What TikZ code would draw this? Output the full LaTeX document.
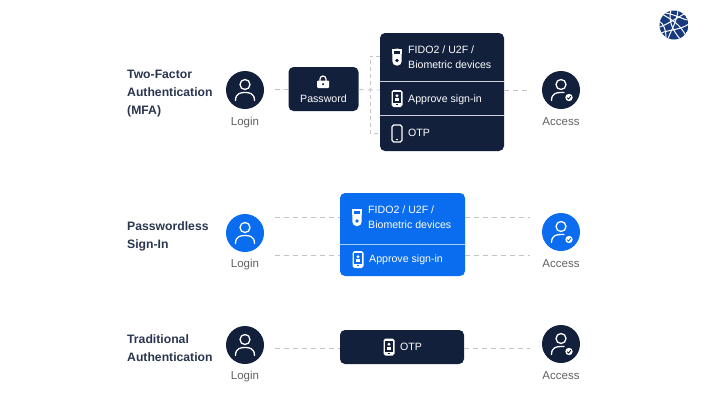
\documentclass[tikz,border=0pt]{standalone}
\usepackage{fontspec}
\setmainfont{Liberation Sans}
\usetikzlibrary{arrows.meta,positioning,backgrounds}
\definecolor{navy}{HTML}{12203C}
\definecolor{azure}{HTML}{0A6CEE}
\definecolor{logoblue}{HTML}{163A7D}
\tikzset{
  circ/.style={circle,fill=#1,minimum size=38pt,inner sep=0pt},
  panel/.style={draw=none,fill=#1,rounded corners=5pt,inner sep=0pt},
  link/.style={draw=black!23,dash pattern=on 5pt off 4pt,line width=.9pt},
  title/.style={anchor=base west,inner sep=0pt,font=\fontsize{12.2}{12}\selectfont\bfseries,text=navy!90!white},
  caption/.style={anchor=base,inner sep=0pt,font=\fontsize{11.5}{12}\selectfont,text=black!62},
  inner/.style={anchor=base west,inner sep=0pt,font=\fontsize{10.6}{11}\selectfont,text=white},
  sep/.style={draw=white!80!navy,line width=.8pt},
  pics/personicon/.style={code={
    \draw[white,line width=1.3pt] (0,-5.5) circle (5);
    \draw[white,line width=1.3pt,line cap=round] (-9.5,10.5) .. controls (-9.5,3) and (-4,2.5) .. (0,2.5) .. controls (4,2.5) and (9.5,3) .. (9.5,10.5);
  }},
  pics/accessicon/.style={code={
    \draw[white,line width=1.3pt] (0,-5.5) circle (5);
    \draw[white,line width=1.3pt,line cap=round] (-9.5,10.5) .. controls (-9.5,3) and (-4,2.5) .. (0,2.5) -- (3,2.5);
    \fill[white] (8,7.5) circle (3.7);
    \draw[#1,line width=.9pt] (6.2,7.7) -- (7.6,9) -- (9.8,6.2);
  }},
  pics/usbicon/.style={code={
    \fill[white,rounded corners=4pt] (-4.6,-8.5) rectangle (4.6,8.5);
    \fill[white] (-4.6,-8.5) rectangle (4.6,-3);
    \fill[#1] (-3,-6.5) rectangle (3,-3.5);
    \fill[#1] (0,3.5) circle (1.9);
  }},
  pics/approveicon/.style={code={
    \fill[white,rounded corners=1.8pt] (-5.5,-8.5) rectangle (5.5,8.5);
    \fill[#1] (-3.6,-6.5) rectangle (3.6,4.5);
    \fill[white] (0,-2.8) circle (1.6);
    \fill[white] (-2.4,2.6) rectangle (2.4,-.2);
    \fill[#1] (-1.2,5.9) rectangle (1.2,6.9);
  }},
  pics/otpicon/.style={code={
    \draw[white,line width=1.2pt,rounded corners=1.8pt] (-5,-8.5) rectangle (5,8.5);
    \fill[white] (-1.3,5.4) rectangle (1.3,6.6);
  }},
  pics/lockicon/.style={code={
    \draw[white,line width=1.2pt] (-3,-1) -- (-3,-3) arc (180:360:3) -- (3,-1);
    \fill[white,rounded corners=1pt] (-6,-1.5) rectangle (6,6);
    \fill[#1] (0,2.2) circle (1.2);
  }},
}
\begin{document}
\begin{tikzpicture}[x=1pt,y=-1pt]
\useasboundingbox (0,0) rectangle (711,400);
% logo
\begin{scope}
\clip (674,25) circle (14.5);
\fill[logoblue] (674,25) circle (14.5);
\draw[white,line width=1pt] (662,14) .. controls (672,20) and (680,24) .. (686,36);
\draw[white,line width=1pt] (660,27) .. controls (668,24) and (680,16) .. (686,13);
\draw[white,line width=1pt] (671,10) .. controls (668,20) and (672,30) .. (681,40);
\draw[white,line width=1pt] (661,33) .. controls (668,30) and (680,30) .. (689,24);
\draw[white,line width=1pt] (668,39) .. controls (670,32) and (676,24) .. (678,11);
\draw[white,line width=1pt] (659,21) .. controls (664,24) and (666,30) .. (666,38);
\draw[white,line width=1pt] (664,13) .. controls (672,13) and (684,20) .. (688,20);
\end{scope}

% top row
\node[title] (mfa1) at (127,78) {Two-Factor};
\node[title] (mfa2) at (127,96) {Authentication};
\node[title] (mfa3) at (127,114) {(MFA)};
\node[circ=navy] (login1) at (245,90) {};
\pic at (login1) {personicon};
\node[caption] (loginlabel1) at (245,125) {Login};
\node[panel=navy,minimum width=70pt,minimum height=44pt] (pass) at (323.5,89) {};
\pic at (323,82) {lockicon=navy};
\node[inner,anchor=base] (passlabel) at (323.5,102) {Password};
\node[panel=navy,minimum width=124pt,minimum height=118pt] (factors) at (442,92) {};
\draw[sep] (380,81) -- (504,81);
\draw[sep] (380,115) -- (504,115);
\pic at (397,57) {usbicon=navy};
\node[inner] (fido1a) at (408,53.5) {FIDO2 / U2F /};
\node[inner] (fido1b) at (408,68.5) {Biometric devices};
\pic at (397,98.5) {approveicon=navy};
\node[inner] (approve1) at (408,102.5) {Approve sign-in};
\pic at (397,133.5) {otpicon};
\node[inner] (otp1) at (408,136.5) {OTP};
\node[circ=navy] (access1) at (561,90) {};
\pic at (access1) {accessicon=navy};
\node[caption] (accesslabel1) at (561,125) {Access};
\coordinate (fork) at (370,90);
\coordinate (forkup) at (370,56);
\coordinate (forkdown) at (370,133);
\draw[link,shorten <=11pt] (login1) -- (pass);
\draw[link] (pass) -- (factors.west |- fork);
\draw[link,dash pattern=on 3.5pt off 3.5pt] (factors.west |- forkup) -- (forkup) -- (forkdown) -- (factors.west |- forkdown);
\draw[link,shorten >=12pt] (factors.east |- access1) -- (access1);

% middle row
\node[title] (pwless1) at (127,230) {Passwordless};
\node[title] (pwless2) at (127,248) {Sign-In};
\node[circ=azure] (login2) at (245,233) {};
\pic at (login2) {personicon};
\node[caption] (loginlabel2) at (245,267) {Login};
\node[panel=azure,minimum width=125pt,minimum height=83pt] (keys) at (402.5,234.5) {};
\draw[sep,draw=white!65!azure] (340,244) -- (465,244);
\pic at (357,217.5) {usbicon=azure};
\node[inner] (fido2a) at (368,213.5) {FIDO2 / U2F /};
\node[inner] (fido2b) at (368,228.5) {Biometric devices};
\pic at (358,259.5) {approveicon=azure};
\node[inner] (approve2) at (369,262.5) {Approve sign-in};
\node[circ=azure] (access2) at (561,232) {};
\pic at (access2) {accessicon=azure};
\node[caption] (accesslabel2) at (561,267) {Access};
\coordinate (inup) at (275,217);
\coordinate (indown) at (275,255);
\coordinate (outup) at (530,217);
\coordinate (outdown) at (530,255);
\draw[link] (inup) -- (keys.west |- inup);
\draw[link] (indown) -- (keys.west |- indown);
\draw[link] (keys.east |- outup) -- (outup);
\draw[link] (keys.east |- outdown) -- (outdown);

% bottom row
\node[title] (trad1) at (127,343) {Traditional};
\node[title] (trad2) at (127,361) {Authentication};
\node[circ=navy] (login3) at (245,345) {};
\pic at (login3) {personicon};
\node[caption] (loginlabel3) at (245,379) {Login};
\node[panel=navy,minimum width=124pt,minimum height=34pt] (otpbox) at (402,347) {};
\pic at (389,347) {approveicon=navy};
\node[inner] (otp3) at (400,350.5) {OTP};
\node[circ=navy] (access3) at (561,344) {};
\pic at (access3) {accessicon=navy};
\node[caption] (accesslabel3) at (561,379) {Access};
\coordinate (in3) at (275,348);
\coordinate (out3) at (530,348);
\draw[link] (in3) -- (otpbox.west |- in3);
\draw[link] (otpbox.east |- out3) -- (out3);
\end{tikzpicture}
\end{document}
